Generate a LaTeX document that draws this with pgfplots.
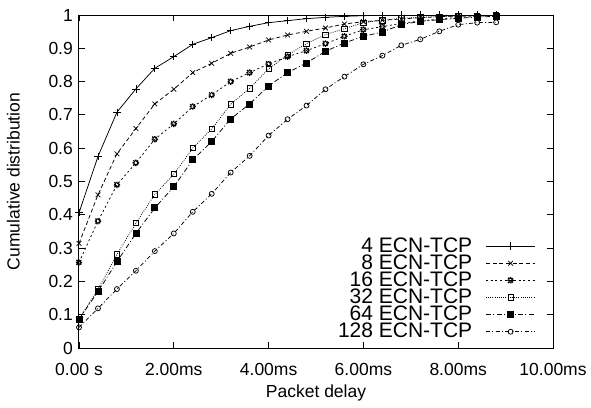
\documentclass[border=0pt]{standalone}
\usepackage{fontspec}
\setmainfont{Liberation Sans}
\usepackage{pgfplots}
\usepackage{pgfplotstable}
\pgfplotsset{compat=1.18}

% gnuplot-style "*" point: a plus and a cross on top of each other
\pgfdeclareplotmark{gpstar}{%
  \pgfpathmoveto{\pgfqpoint{-\pgfplotmarksize}{0pt}}%
  \pgfpathlineto{\pgfqpoint{\pgfplotmarksize}{0pt}}%
  \pgfpathmoveto{\pgfqpoint{0pt}{-\pgfplotmarksize}}%
  \pgfpathlineto{\pgfqpoint{0pt}{\pgfplotmarksize}}%
  \pgfpathmoveto{\pgfqpoint{-0.8\pgfplotmarksize}{-0.8\pgfplotmarksize}}%
  \pgfpathlineto{\pgfqpoint{0.8\pgfplotmarksize}{0.8\pgfplotmarksize}}%
  \pgfpathmoveto{\pgfqpoint{-0.8\pgfplotmarksize}{0.8\pgfplotmarksize}}%
  \pgfpathlineto{\pgfqpoint{0.8\pgfplotmarksize}{-0.8\pgfplotmarksize}}%
  \pgfusepathqstroke}

% packet delay (ms) vs cumulative distribution, one column per flow count
\pgfplotstableread{
x    c4    c8    c16   c32   c64   c128
0.0  0.406 0.314 0.257 0.087 0.087 0.062
0.4  0.575 0.460 0.381 0.176 0.169 0.119
0.8  0.708 0.583 0.490 0.281 0.259 0.177
1.2  0.778 0.659 0.556 0.375 0.344 0.232
1.6  0.840 0.733 0.627 0.461 0.421 0.291
2.0  0.875 0.777 0.673 0.522 0.484 0.344
2.4  0.912 0.827 0.725 0.600 0.565 0.409
2.8  0.932 0.855 0.760 0.658 0.620 0.463
3.2  0.953 0.885 0.800 0.732 0.688 0.527
3.6  0.966 0.904 0.827 0.780 0.733 0.577
4.0  0.977 0.925 0.853 0.838 0.787 0.638
4.4  0.983 0.940 0.875 0.880 0.827 0.687
4.8  0.989 0.951 0.893 0.914 0.856 0.728
5.2  0.993 0.961 0.914 0.941 0.891 0.777
5.6  0.996 0.973 0.936 0.959 0.916 0.815
6.0  0.998 0.980 0.956 0.977 0.936 0.852
6.4  0.999 0.984 0.965 0.984 0.949 0.878
6.8  1.000 0.988 0.975 0.990 0.971 0.909
7.2  1.000 0.992 0.982 0.993 0.981 0.927
7.6  1.000 0.995 0.988 0.995 0.986 0.951
8.0  1.000 0.997 0.993 0.997 0.990 0.971
8.4  1.000 0.998 0.996 0.998 0.994 0.977
8.8  1.000 0.999 0.998 0.999 0.996 0.978
}\cdf

\begin{document}
\fontsize{10.5}{12}\selectfont
\begin{tikzpicture}
\begin{axis}[
    width=284.4pt, height=199.8pt, scale only axis,
    xmin=0, xmax=10, ymin=0, ymax=1,
    xtick={0,2,4,6,8,10},
    xticklabels={0.00 s,2.00ms,4.00ms,6.00ms,8.00ms,10.00ms},
    ytick={0,0.1,...,1},
    yticklabels={0,0.1,0.2,0.3,0.4,0.5,0.6,0.7,0.8,0.9,1},
    xticklabel style={yshift=-5.5pt},
    tick align=inside, major tick length=3.5pt,
    tick style={black, line width=0.5pt},
    axis line style={line width=0.6pt},
    /pgf/number format/assume math mode=true,
    xlabel={Packet delay}, ylabel={Cumulative distribution},
    xlabel style={yshift=1.8pt}, ylabel style={yshift=10pt},
    legend plot pos=right, legend cell align=right,
    legend style={at={(1,0)}, anchor=south east, xshift=-10.2pt, yshift=2.4pt,
                  draw=none, fill=none, inner sep=0pt,
                  font=\fontsize{12.6}{14}\selectfont,
                  row sep=-4.1pt, column sep=6pt},
    legend image code/.code={
      \draw[mark repeat=2, mark phase=2, #1]
        plot coordinates {(0cm,0cm) (0.52cm,0cm) (1.04cm,0cm)};},
    every axis plot/.append style={black, line width=0.45pt, mark options={solid}},
  ]
  \addplot[mark=+, mark size=2.2pt] table[y=c4] {\cdf};
  \addlegendentry{4 ECN-TCP}
  \addplot[dash pattern=on 2.4pt off 1.6pt, mark=x, mark size=2pt] table[y=c8] {\cdf};
  \addlegendentry{8 ECN-TCP}
  \addplot[dash pattern=on 1.2pt off 1.6pt, mark=gpstar, mark size=1.9pt,
           mark options={line width=0.8pt}] table[y=c16] {\cdf};
  \addlegendentry{16 ECN-TCP}
  \addplot[dash pattern=on 0.5pt off 0.8pt, mark=square, mark size=1.6pt] table[y=c32] {\cdf};
  \addlegendentry{32 ECN-TCP}
  \addplot[dash pattern=on 3pt off 1.4pt on 0.6pt off 1.4pt, mark=square*, mark size=1.8pt] table[y=c64] {\cdf};
  \addlegendentry{64 ECN-TCP}
  \addplot[dash pattern=on 2.4pt off 1.4pt on 0.6pt off 1.4pt, mark=o, mark size=1.5pt] table[y=c128] {\cdf};
  \addlegendentry{128 ECN-TCP}
\end{axis}
\pgfresetboundingbox
\path[use as bounding box] (current axis.south west) ++(-47.4pt,-35.4pt)
  rectangle ([xshift=22.8pt, yshift=9pt]current axis.north east);
\end{tikzpicture}
\end{document}
